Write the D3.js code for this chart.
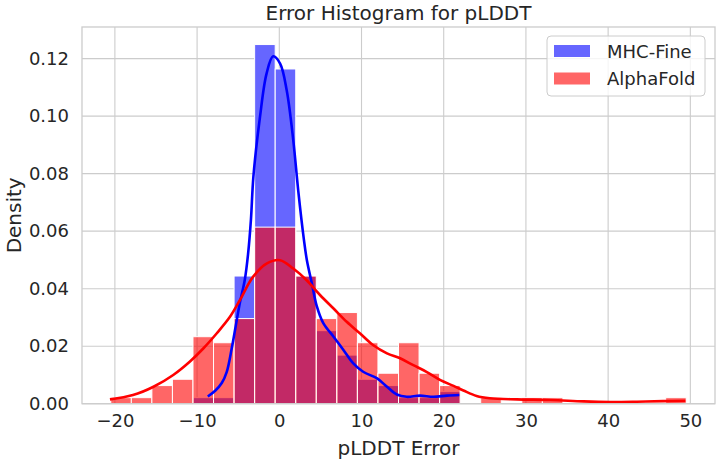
<!DOCTYPE html>
<head>
<meta charset="utf-8">
<title>Error Histogram for pLDDT</title>
<style>
body { margin: 0; background: #fff; }
text { font-family: "DejaVu Sans", sans-serif; fill: #262626; }
.grid line { stroke: #cccccc; stroke-width: 1.1px; }
.bar { stroke: #fff; stroke-width: 1px; }
.kde { fill: none; stroke-width: 2.6px; stroke-linejoin: round; }
</style>
</head>
<body>
<script src="https://cdn.jsdelivr.net/npm/d3@7"></script>
<script>

// histogram bins: first edge and width (pLDDT error units)
var binStart = -20.5,
    binWidth = 2.5;

// density per bin
var mhcDensity = [0, 0, 0, 0, 0.0021, 0.0021, 0.0444, 0.1249, 0.1164, 0.0444,
                  0.0254, 0.0169, 0.0085, 0.0063, 0.0021, 0.0021, 0.0042];
var afDensity  = [0.0021, 0.0021, 0.0063, 0.0085, 0.0233, 0.0212, 0.0296, 0.0614, 0.0614, 0.0444,
                  0.0296, 0.0317, 0.0212, 0.0106, 0.0212, 0.0106, 0.0063, 0, 0.0021, 0,
                  0.0021, 0.0021, 0, 0, 0, 0, 0, 0.0021];

// kde curves [x, density]
var mhcKde = [[-8.7, 0.0025], [-7.8, 0.0045], [-7.0, 0.0072], [-6.4, 0.011], [-5.8, 0.019],
              [-5.3, 0.027], [-4.8, 0.035], [-4.2, 0.043], [-3.8, 0.052], [-3.45, 0.064],
              [-3.15, 0.079], [-2.35, 0.0997], [-1.55, 0.1148], [-0.75, 0.1208], [0.1, 0.1183],
              [0.9, 0.109], [1.7, 0.0916], [2.3, 0.0742], [3.0, 0.0569], [3.35, 0.050],
              [3.95, 0.042], [4.55, 0.034], [5.35, 0.028], [6.6, 0.0233], [7.8, 0.0187],
              [9.0, 0.014], [10.2, 0.0111], [11.9, 0.0088], [13.1, 0.0059], [14.3, 0.0032],
              [15.5, 0.0024], [17.1, 0.0028], [18.75, 0.0024], [20.4, 0.0028], [21.9, 0.003]];
var afKde = [[-20.6, 0.0015], [-17.8, 0.003], [-15.3, 0.0059], [-12.9, 0.01], [-10.9, 0.0146],
             [-9.25, 0.0192], [-7.6, 0.0245], [-6.0, 0.0302], [-4.8, 0.036], [-3.2, 0.0441],
             [-1.5, 0.0488], [0.1, 0.0499], [1.7, 0.047], [3.3, 0.043], [4.95, 0.0378],
             [6.6, 0.0331], [8.2, 0.0285], [9.8, 0.0245], [11.4, 0.0204], [13.1, 0.0175],
             [14.7, 0.0158], [16.3, 0.0134], [17.9, 0.0111], [19.6, 0.0082], [21.2, 0.0062],
             [22.4, 0.0046], [24.0, 0.0027], [25.6, 0.0019], [28.9, 0.0015], [33, 0.0013],
             [37, 0.0008], [40.3, 0.0006], [43.5, 0.0007], [46.7, 0.0009], [49.4, 0.001]];

var xTicks = [-20, -10, 0, 10, 20, 30, 40, 50];
var yTicks = [0, 0.02, 0.04, 0.06, 0.08, 0.10, 0.12];

var seriesNames = ["MHC-Fine", "AlphaFold"];
var barColors = ["#6666ff", "#ff6666"];
var lineColors = ["#0000ff", "#ff0000"];

var width = 720,
    height = 465;
var plotLeft = 82, plotRight = 715, plotTop = 27, plotBottom = 403.7;

var svg = d3.select("body").append("svg")
    .attr("width", width)
    .attr("height", height);

var x = d3.scaleLinear().domain([-24, 53]).range([plotLeft, plotRight]);
var y = d3.scaleLinear().domain([0, 0.131]).range([plotBottom, plotTop]);

// grid
var grid = svg.append("g").attr("class", "grid");
grid.selectAll(".gx").data(xTicks).enter().append("line")
    .attr("x1", function(d) { return x(d); })
    .attr("x2", function(d) { return x(d); })
    .attr("y1", plotTop).attr("y2", plotBottom);
grid.selectAll(".gy").data(yTicks).enter().append("line")
    .attr("x1", plotLeft).attr("x2", plotRight)
    .attr("y1", function(d) { return y(d); })
    .attr("y2", function(d) { return y(d); });

function toBins(values) {
  return values.map(function(v, i) {
    return {x0: binStart + i * binWidth, x1: binStart + (i + 1) * binWidth, v: v};
  }).filter(function(d) { return d.v > 0; });
}

// bars: MHC-Fine first (alpha 0.6 on white), AlphaFold drawn over it with real opacity
function drawBars(values, fill, opacity) {
  svg.append("g").selectAll("rect")
      .data(toBins(values))
      .enter().append("rect")
      .attr("class", "bar")
      .attr("x", function(d) { return x(d.x0); })
      .attr("width", function(d) { return x(d.x1) - x(d.x0); })
      .attr("y", function(d) { return y(d.v); })
      .attr("height", function(d) { return y(0) - y(d.v); })
      .style("fill", fill)
      .style("fill-opacity", opacity);
}
drawBars(mhcDensity, barColors[0], 1);
drawBars(afDensity, "#ff0000", 0.6);

// kde lines
var line = d3.line()
    .x(function(d) { return x(d[0]); })
    .y(function(d) { return y(d[1]); })
    .curve(d3.curveCatmullRom.alpha(0.5));

svg.append("path").datum(mhcKde).attr("class", "kde")
    .attr("d", line).style("stroke", lineColors[0]);
svg.append("path").datum(afKde).attr("class", "kde")
    .attr("d", line).style("stroke", lineColors[1]);

// frame
svg.append("rect")
    .attr("x", plotLeft).attr("y", plotTop)
    .attr("width", plotRight - plotLeft).attr("height", plotBottom - plotTop)
    .style("fill", "none").style("stroke", "#cccccc").style("stroke-width", 1.3);

// axes (no tick marks, as in seaborn whitegrid)
var xAxis = svg.append("g")
    .attr("transform", "translate(0," + plotBottom + ")")
    .call(d3.axisBottom(x).tickValues(xTicks).tickSize(0).tickPadding(11)
      .tickFormat(function(d) { return d < 0 ? "\u2212" + Math.abs(d) : d; }));
var yAxis = svg.append("g")
    .attr("transform", "translate(" + plotLeft + ",0)")
    .call(d3.axisLeft(y).tickValues(yTicks).tickSize(0).tickPadding(13)
      .tickFormat(d3.format(".2f")));
[xAxis, yAxis].forEach(function(a) {
  a.select(".domain").remove();
  a.selectAll("text").style("font-size", "18px").style("font-family", "DejaVu Sans, sans-serif")
    .style("fill", "#262626");
});

// title and labels
svg.append("text")
    .attr("x", (plotLeft + plotRight) / 2).attr("y", 20)
    .attr("text-anchor", "middle")
    .style("font-size", "20px")
    .text("Error Histogram for pLDDT");
svg.append("text")
    .attr("x", (plotLeft + plotRight) / 2).attr("y", 455)
    .attr("text-anchor", "middle")
    .style("font-size", "20px")
    .text("pLDDT Error");
svg.append("text")
    .attr("transform", "translate(21," + ((plotTop + plotBottom) / 2) + ") rotate(-90)")
    .attr("text-anchor", "middle")
    .style("font-size", "20px")
    .text("Density");

// legend
var legend = svg.append("g");
legend.append("rect")
    .attr("x", 547).attr("y", 36)
    .attr("width", 158).attr("height", 60)
    .attr("rx", 4)
    .style("fill", "#fff").style("fill-opacity", 0.8)
    .style("stroke", "#cccccc").style("stroke-width", 1);
seriesNames.forEach(function(name, i) {
  legend.append("rect")
      .attr("x", 554).attr("y", 45 + i * 27.5)
      .attr("width", 36).attr("height", 12)
      .style("fill", barColors[i]);
  legend.append("text")
      .attr("x", 607).attr("y", 57.5 + i * 27.5)
      .style("font-size", "18px")
      .text(name);
});

</script>
</body>
</html>
